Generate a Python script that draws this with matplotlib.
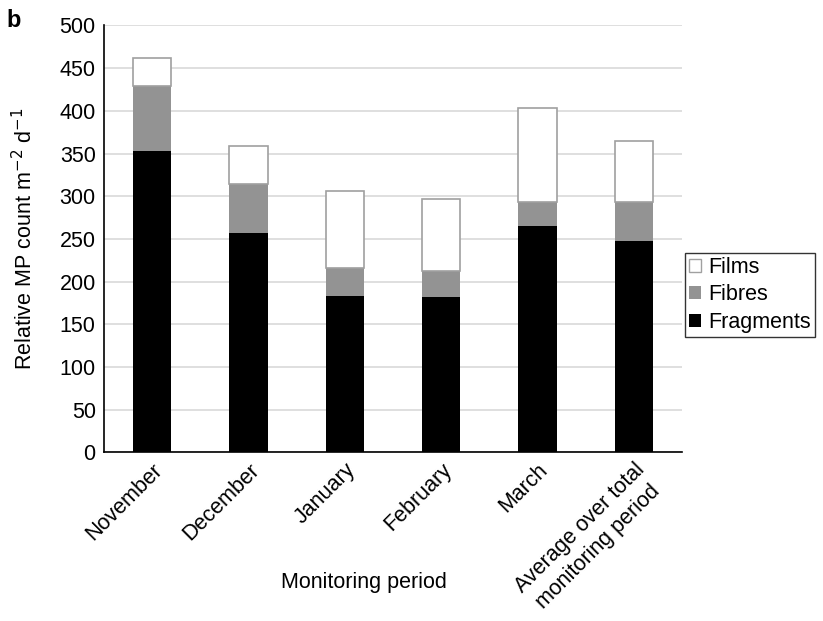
import numpy as np
import matplotlib
matplotlib.use("Agg")
import matplotlib.pyplot as plt
from matplotlib.patches import Patch

plt.rcParams['font.family'] = ['Liberation Sans', 'DejaVu Sans']

# Данные
periods = ["November", "December", "January", "February", "March",
           "Average over total\nmonitoring period"]
fragments = [353, 257, 183, 182, 265, 248]
fibres = [76, 57, 33, 31, 28, 45]
films = [33, 45, 90, 84, 110, 72]

FS = 15.5

fig = plt.figure(figsize=(8.23, 6.21), dpi=100)
ax = fig.add_axes([0.1264, 0.2715, 0.7023, 0.6875])

x = np.arange(len(periods))
w = 0.40
frag = np.array(fragments)
fib = np.array(fibres)

ax.bar(x, fragments, w, color='black', zorder=3)
ax.bar(x, fibres, w, bottom=frag, color='#939393', zorder=3)
ax.bar(x, films, w, bottom=frag + fib, color='white', edgecolor='#a0a0a0',
       linewidth=1.2, zorder=3)

ax.set_xlim(-0.5, len(periods) - 0.5)
ax.set_ylim(0, 500)
ax.set_yticks(np.arange(0, 501, 50))
ax.yaxis.grid(True, color='#d9d9d9', linewidth=1.2, zorder=0)
ax.set_axisbelow(True)

for s in ['top', 'right']:
    ax.spines[s].set_visible(False)
ax.spines['left'].set_linewidth(1.2)
ax.spines['bottom'].set_linewidth(1.2)
ax.tick_params(axis='both', length=0, labelsize=FS, pad=6)

ax.set_xticks(x)
ax.set_xticklabels(periods, rotation=45, ha='right', rotation_mode='anchor',
                   multialignment='center', linespacing=1.35, fontsize=FS)
ax.tick_params(axis='x', pad=5)

ax.set_ylabel("Relative MP count m$^{-2}$ d$^{-1}$", fontsize=FS, labelpad=16)
ax.set_xlabel("Monitoring period", fontsize=FS)
ax.xaxis.set_label_coords(0.45, -0.28)

handles = [Patch(facecolor='white', edgecolor='#a0a0a0', label='Films'),
           Patch(facecolor='#939393', label='Fibres'),
           Patch(facecolor='black', label='Fragments')]
leg = fig.legend(handles=handles, loc='center left', bbox_to_anchor=(0.832, 0.525),
                 fontsize=FS, frameon=True, fancybox=False, edgecolor='black',
                 handlelength=0.55, handleheight=0.55, handletextpad=0.35,
                 labelspacing=0.3, borderpad=0.2, borderaxespad=0)
leg.get_frame().set_linewidth(1.0)

fig.text(0.008, 0.985, "b", fontsize=17, fontweight='bold', va='top')

fig.savefig("out.png", dpi=100)
